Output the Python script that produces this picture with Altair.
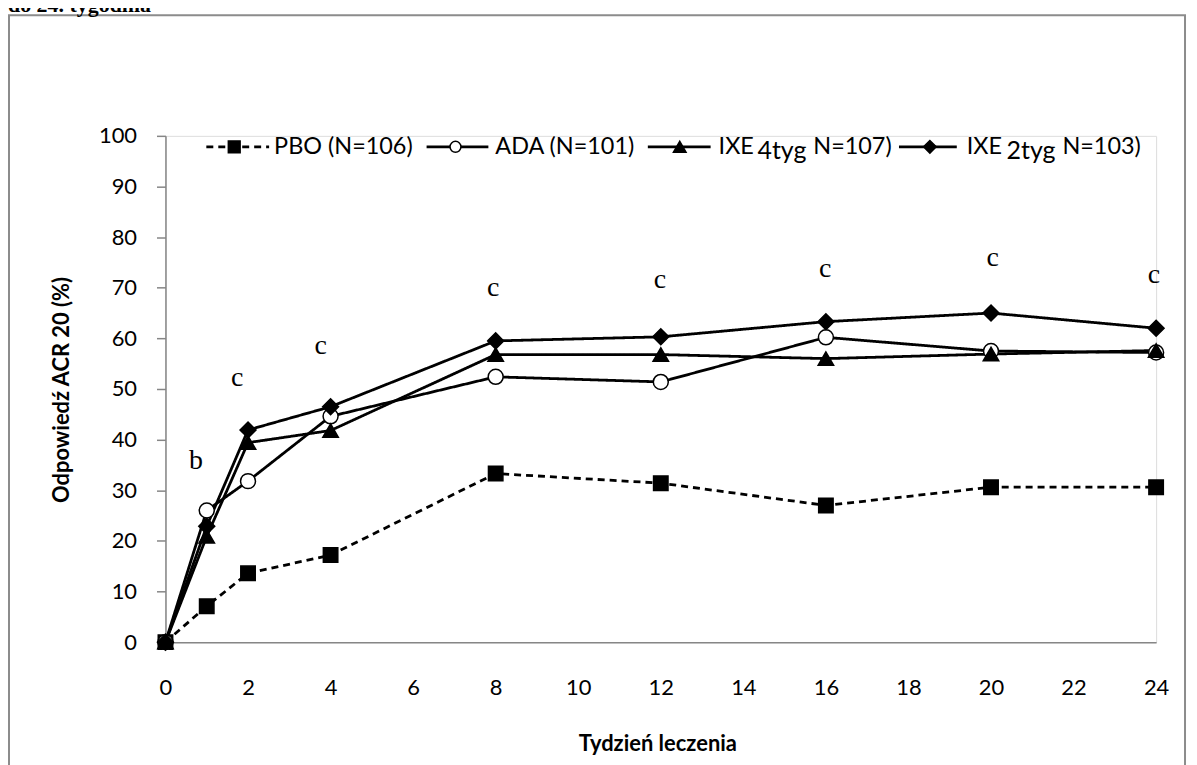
import altair as alt
import pandas as pd

# ---- data ----
weeks = [0, 1, 2, 4, 8, 12, 16, 20, 24]
pbo = [0, 7.1, 13.6, 17.2, 33.3, 31.4, 27.0, 30.6, 30.6]
ada = [0, 26.0, 31.8, 44.6, 52.4, 51.4, 60.2, 57.5, 57.2]
ixe4 = [0, 20.9, 39.4, 41.8, 56.8, 56.8, 56.0, 56.9, 57.6]
ixe2 = [0, 22.9, 41.9, 46.5, 59.5, 60.3, 63.3, 65.0, 62.0]
series_names = ["PBO (N=106)", "ADA (N=101)", "IXE 4tyg (N=107)", "IXE 2tyg (N=103)"]

ann_weeks = [0.74, 1.74, 3.76, 7.94, 11.98, 15.98, 20.04, 23.95]
ann_vals = [35.4, 51.8, 58.1, 69.5, 71.1, 73.4, 75.5, 72.2]
ann_text = ["b", "c", "c", "c", "c", "c", "c", "c"]

x_ticks = list(range(0, 25, 2))
y_ticks = list(range(0, 101, 10))

x_title = "Tydzień leczenia"
y_title = "Odpowiedź ACR 20 (%)"
top_title = "do 24. tygodnia"

SANS = "Lato"
SERIF = "Liberation Serif"
GREY = "#868686"

rows = []
for name, vals in zip(series_names, [pbo, ada, ixe4, ixe2]):
    for w, v in zip(weeks, vals):
        rows.append({"week": w, "value": v, "series": name})
df = pd.DataFrame(rows)
ann = pd.DataFrame({"week": ann_weeks, "value": ann_vals, "label": ann_text})
one = pd.DataFrame({"k": [0]})

W, H = 994, 508
xs = alt.Scale(domain=[0, 24], nice=False)
ys = alt.Scale(domain=[0, 100], nice=False)

x_enc = alt.X("week:Q", scale=xs,
              axis=alt.Axis(values=x_ticks, title=None, grid=False, ticks=False,
                            domainColor=GREY, domainWidth=1.5,
                            labelFont=SANS, labelFontSize=22, labelColor="black",
                            labelPadding=36, labelFlush=False))
y_enc = alt.Y("value:Q", scale=ys,
              axis=alt.Axis(values=y_ticks, title=None, grid=False, ticks=True,
                            tickSize=9, tickColor=GREY, tickWidth=1.5,
                            domainColor=GREY, domainWidth=1.5,
                            labelFont=SANS, labelFontSize=22, labelColor="black",
                            labelPadding=20))

lines = alt.Chart(df).mark_line(color="black", strokeWidth=2.8).encode(
    x=x_enc, y=y_enc, detail="series:N",
    strokeDash=alt.StrokeDash("series:N", legend=None,
                              scale=alt.Scale(domain=series_names,
                                              range=[[7, 5], [1, 0], [1, 0], [1, 0]])),
)

points = alt.Chart(df).mark_point(filled=True, stroke="black", strokeWidth=1.5, opacity=1).encode(
    x=alt.X("week:Q", scale=xs),
    y=alt.Y("value:Q", scale=ys),
    shape=alt.Shape("series:N", legend=None,
                    scale=alt.Scale(domain=series_names,
                                    range=["square", "circle", "triangle-up", "diamond"])),
    fill=alt.Fill("series:N", legend=None,
                  scale=alt.Scale(domain=series_names,
                                  range=["black", "white", "black", "black"])),
    size=alt.Size("series:N", legend=None,
                  scale=alt.Scale(domain=series_names, range=[210, 256, 240, 300])),
)

annots = alt.Chart(ann).mark_text(font=SERIF, fontSize=28, color="black",
                                  baseline="middle", dy=-2).encode(
    x=alt.X("week:Q", scale=xs), y=alt.Y("value:Q", scale=ys), text="label:N")

# ---- manual legend ----
LY = 11
leg = []
def rule(x1, x2, dash=None):
    kw = dict(color="black", strokeWidth=2.8)
    if dash:
        kw["strokeDash"] = dash
    return alt.Chart(one).mark_rule(**kw).encode(
        x=alt.value(x1), x2=alt.value(x2), y=alt.value(LY))

def sym(x, shape, fill, size):
    return alt.Chart(one).mark_point(shape=shape, filled=True, fill=fill, stroke="black",
                                     strokeWidth=1.5, size=size, opacity=1).encode(
        x=alt.value(x), y=alt.value(LY))

def txt(x, s, y=LY, size=23.5):
    return alt.Chart(one).mark_text(text=s, font=SANS, fontSize=size, color="black",
                                    align="left", baseline="middle").encode(
        x=alt.value(x), y=alt.value(y))

leg += [rule(41, 104, [7, 5]), sym(69, "square", "black", 140), txt(109, series_names[0])]
leg += [rule(262, 324), sym(291, "circle", "white", 120), txt(331, series_names[1])]
leg += [rule(484, 547), sym(516, "triangle-up", "black", 160),
        txt(555, "IXE"), txt(594, "4tyg", y=LY + 4, size=25), txt(650, "N=107)")]
leg += [rule(736, 794), sym(767, "diamond", "black", 160),
        txt(804, "IXE"), txt(844, "2tyg", y=LY + 4, size=25), txt(900, "N=103)")]

# ---- titles & frame ----
xt = alt.Chart(one).mark_text(text=x_title, font=SANS, fontSize=22, fontWeight="bold",
                              color="black", align="center", baseline="middle").encode(
    x=alt.value(494), y=alt.value(610))
yt = alt.Chart(one).mark_text(text=y_title, font=SANS, fontSize=22, fontWeight="bold",
                              color="black", align="center", baseline="middle", angle=270).encode(
    x=alt.value(-104), y=alt.value(255))
tt = alt.Chart(one).mark_text(text=top_title, font=SERIF, fontSize=22, fontWeight="bold",
                              color="black", align="left", baseline="alphabetic").encode(
    x=alt.value(-158), y=alt.value(-124))
frame = alt.Chart(one).mark_rect(fill=None, stroke="#8c8c8c", strokeWidth=2).encode(
    x=alt.value(-157), x2=alt.value(1023), y=alt.value(-121), y2=alt.value(700))

chart = alt.layer(frame, tt, lines, points, annots, xt, yt, *leg).properties(
    width=W, height=H,
    autosize=alt.AutoSizeParams(type="none"),
    padding={"left": 158, "top": 127, "right": 33, "bottom": 122},
).configure_view(stroke=None).configure(background="white")

chart.save("out.html", embed_options={"renderer": "svg", "actions": False})
